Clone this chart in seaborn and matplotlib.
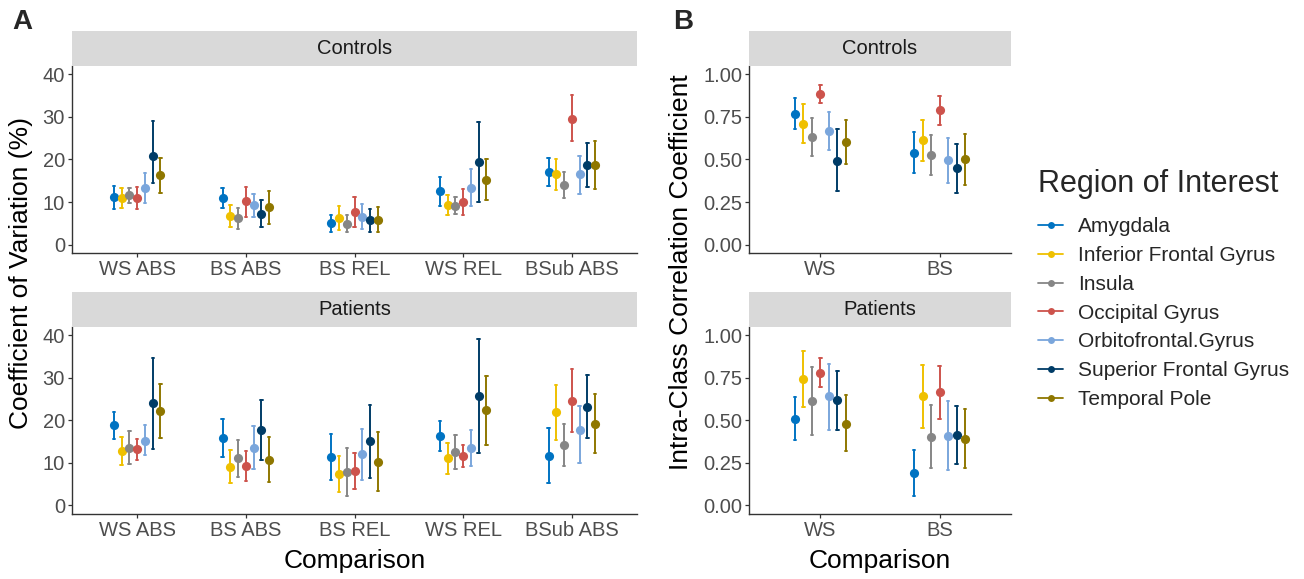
import matplotlib
matplotlib.use("Agg")
import matplotlib.pyplot as plt
from matplotlib.lines import Line2D
import seaborn as sns
import pandas as pd

# ---------------- data ----------------
regions = ["Amygdala", "Inferior Frontal Gyrus", "Insula", "Occipital Gyrus",
           "Orbitofrontal.Gyrus", "Superior Frontal Gyrus", "Temporal Pole"]
palette = ["#0073C2", "#EFC000", "#868686", "#CD534C", "#7AA6DC", "#003C67", "#8F7700"]

cv_comparisons = ["WS ABS", "BS ABS", "BS REL", "WS REL", "BSub ABS"]
icc_comparisons = ["WS", "BS"]
groups = ["Controls", "Patients"]

# Coefficient of variation (%) - Controls (rows = comparisons, cols = regions)
cv_controls_mid = [[11.2, 10.9, 11.6, 10.9, 13.4, 20.8, 16.3],
                   [10.9, 6.7, 6.25, 10.2, 9.3, 7.3, 8.75],
                   [5.0, 6.3, 4.9, 7.7, 6.6, 5.7, 5.9],
                   [12.5, 9.4, 9.2, 10.0, 13.4, 19.5, 15.3],
                   [17.1, 16.6, 14.1, 29.6, 16.5, 18.75, 18.6]]
cv_controls_lo = [[8.5, 8.7, 9.8, 8.3, 9.8, 14.4, 12.2],
                  [8.6, 4.1, 3.8, 6.6, 6.6, 4.1, 4.8],
                  [3.05, 3.5, 2.9, 4.1, 3.7, 3.1, 3.05],
                  [9.1, 6.9, 7.3, 6.9, 9.1, 10.0, 10.5],
                  [13.8, 12.8, 11.0, 24.3, 11.95, 13.6, 13.0]]
cv_controls_hi = [[13.75, 13.2, 13.3, 13.5, 16.9, 29.1, 20.4],
                  [13.2, 9.4, 8.6, 13.5, 12.0, 10.5, 12.6],
                  [6.95, 9.0, 6.9, 11.3, 9.45, 8.3, 8.9],
                  [15.9, 11.6, 11.2, 13.0, 17.7, 28.9, 20.0],
                  [20.3, 20.2, 17.0, 35.1, 20.9, 23.8, 24.3]]

# Coefficient of variation (%) - Patients
cv_patients_mid = [[18.8, 12.8, 13.6, 13.25, 15.1, 24.0, 22.2],
                   [15.8, 9.0, 11.06, 9.3, 13.6, 17.7, 10.7],
                   [11.4, 7.3, 7.8, 8.1, 12.0, 15.1, 10.3],
                   [16.3, 11.06, 12.6, 11.7, 13.5, 25.7, 22.35],
                   [11.7, 22.0, 14.3, 24.5, 17.65, 23.2, 19.2]]
cv_patients_lo = [[15.7, 9.5, 9.8, 10.7, 11.8, 13.25, 15.9],
                  [11.5, 5.25, 6.8, 5.7, 8.6, 10.7, 5.4],
                  [6.0, 3.1, 2.2, 3.8, 6.1, 6.5, 3.4],
                  [12.9, 7.5, 8.6, 9.0, 9.2, 12.4, 14.3],
                  [5.3, 15.5, 9.3, 17.3, 10.0, 15.8, 12.3]]
cv_patients_hi = [[22.0, 16.2, 17.4, 15.7, 18.8, 34.7, 28.6],
                  [20.2, 13.0, 15.3, 12.9, 18.6, 24.8, 16.2],
                  [16.9, 11.6, 13.6, 12.4, 18.0, 23.7, 17.2],
                  [19.8, 14.7, 16.5, 14.2, 17.7, 39.1, 30.5],
                  [18.1, 28.3, 19.2, 32.0, 23.3, 30.6, 26.2]]

# Intra-class correlation coefficient - Controls
icc_controls_mid = [[0.769, 0.710, 0.631, 0.886, 0.665, 0.494, 0.604],
                    [0.539, 0.614, 0.527, 0.788, 0.496, 0.449, 0.500]]
icc_controls_lo = [[0.676, 0.598, 0.520, 0.833, 0.555, 0.316, 0.475],
                   [0.422, 0.492, 0.408, 0.700, 0.363, 0.304, 0.351]]
icc_controls_hi = [[0.859, 0.824, 0.741, 0.937, 0.776, 0.676, 0.733],
                   [0.659, 0.733, 0.645, 0.875, 0.627, 0.592, 0.647]]

# Intra-class correlation coefficient - Patients
icc_patients_mid = [[0.510, 0.743, 0.614, 0.780, 0.641, 0.620, 0.480],
                    [0.192, 0.641, 0.404, 0.665, 0.406, 0.416, 0.390]]
icc_patients_lo = [[0.384, 0.576, 0.412, 0.694, 0.441, 0.445, 0.320],
                   [0.057, 0.455, 0.222, 0.508, 0.206, 0.241, 0.222]]
icc_patients_hi = [[0.635, 0.910, 0.814, 0.869, 0.833, 0.790, 0.647],
                   [0.324, 0.824, 0.592, 0.820, 0.612, 0.582, 0.565]]

cv_ticks = [0, 10, 20, 30, 40]
icc_ticks = [0.00, 0.25, 0.50, 0.75, 1.00]


def long_frame(comparisons, lo, mid, hi):
    rows = []
    for i, comp in enumerate(comparisons):
        for j, reg in enumerate(regions):
            for v in (lo[i][j], mid[i][j], hi[i][j]):
                rows.append({"Comparison": comp, "Region": reg, "value": v})
    return pd.DataFrame(rows)


data = {
    ("A", "Controls"): long_frame(cv_comparisons, cv_controls_lo, cv_controls_mid, cv_controls_hi),
    ("A", "Patients"): long_frame(cv_comparisons, cv_patients_lo, cv_patients_mid, cv_patients_hi),
    ("B", "Controls"): long_frame(icc_comparisons, icc_controls_lo, icc_controls_mid, icc_controls_hi),
    ("B", "Patients"): long_frame(icc_comparisons, icc_patients_lo, icc_patients_mid, icc_patients_hi),
}

# ---------------- style ----------------
sns.set_theme(style="white")
plt.rcParams["font.family"] = ["Liberation Sans", "DejaVu Sans"]

W, H = 1304, 579
fig = plt.figure(figsize=(W / 100, H / 100), dpi=100)
fig.patch.set_facecolor("white")


def box(l, t, r, b):
    return [l / W, 1 - b / H, (r - l) / W, (b - t) / H]


panel_x = {"A": (72, 637), "B": (749, 1011)}
panel_y = {"Controls": (65.7, 253.3), "Patients": (326.7, 514)}
strip_h = 35
tick_color = "#4D4D4D"
line_color = "#333333"

for (panel, group), df in data.items():
    l, r = panel_x[panel]
    t, b = panel_y[group]
    ax = fig.add_axes(box(l, t, r, b))
    comps = cv_comparisons if panel == "A" else icc_comparisons
    sns.pointplot(data=df, x="Comparison", y="value", hue="Region",
                  order=comps, hue_order=regions, palette=palette,
                  estimator="median", errorbar=("pi", 100),
                  dodge=0.5 * 6 / 7, linestyle="none", markers="o",
                  markersize=6.6, markeredgewidth=0,
                  err_kws={"linewidth": 1.4}, capsize=0.022,
                  legend=False, ax=ax)
    ax.set_xlim(-0.6, len(comps) - 1 + 0.6)
    if panel == "A":
        ax.set_ylim(-2, 42)
        ax.set_yticks(cv_ticks)
        ax.set_yticklabels([str(v) for v in cv_ticks])
    else:
        ax.set_ylim(-0.05, 1.05)
        ax.set_yticks(icc_ticks)
        ax.set_yticklabels([f"{v:.2f}" for v in icc_ticks])
    ax.set_xlabel("")
    ax.set_ylabel("")
    for s in ["top", "right"]:
        ax.spines[s].set_visible(False)
    for s in ["left", "bottom"]:
        ax.spines[s].set_color(line_color)
        ax.spines[s].set_linewidth(1.0)
    ax.tick_params(axis="both", which="major", length=3, width=0.9,
                   color=line_color, labelcolor=tick_color,
                   labelsize=14.5, pad=2, left=True, bottom=True, direction="out")
    ax.grid(False)

    # facet strip
    sax = fig.add_axes(box(l, t - strip_h, r, t))
    sax.set_facecolor("#D9D9D9")
    sax.set_xticks([])
    sax.set_yticks([])
    for s in sax.spines.values():
        s.set_visible(False)
    sax.text(0.5, 0.5, group, ha="center", va="center", fontsize=14.5,
             color="#1A1A1A", transform=sax.transAxes)

# axis titles
fig.text(21 / W, 1 - 273 / H, "Coefficient of Variation (%)", rotation=90,
         ha="center", va="center", fontsize=19, color="black")
fig.text(681 / W, 1 - 272 / H, "Intra-Class Correlation Coefficient", rotation=90,
         ha="center", va="center", fontsize=19, color="black")
fig.text((72 + 637) / 2 / W, 1 - 561 / H, "Comparison", ha="center", va="center",
         fontsize=19, color="black")
fig.text((749 + 1011) / 2 / W, 1 - 561 / H, "Comparison", ha="center", va="center",
         fontsize=19, color="black")

# panel tags
fig.text(12 / W, 1 - 22 / H, "A", ha="left", va="center", fontsize=20, fontweight="bold")
fig.text(673 / W, 1 - 22 / H, "B", ha="left", va="center", fontsize=20, fontweight="bold")

# legend
handles = [Line2D([0], [0], color=c, marker="o", markersize=5, linewidth=1.3,
                  markeredgewidth=0) for c in palette]
leg = fig.legend(handles, regions, title="Region of Interest", loc="upper left",
                 bbox_to_anchor=(1032 / W, 1 - 163 / H), frameon=False,
                 fontsize=15, title_fontsize=22, handlelength=1.2,
                 handletextpad=0.7, labelspacing=0.47, alignment="left",
                 borderaxespad=0, borderpad=0.3)
leg._legend_box.sep = 13

fig.savefig("out.png", dpi=100, facecolor="white")
